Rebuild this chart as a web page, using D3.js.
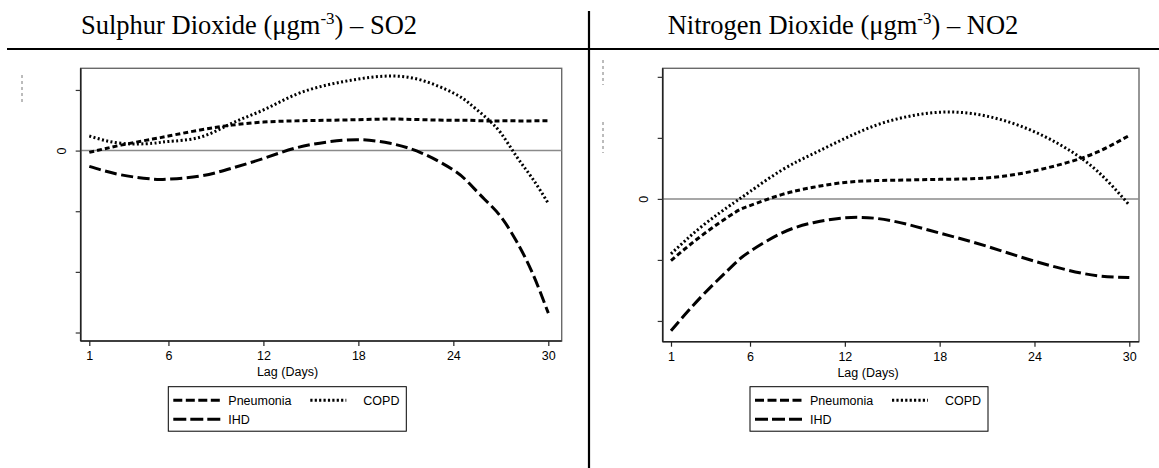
<!DOCTYPE html>
<html><head><meta charset="utf-8">
<script src="https://cdn.jsdelivr.net/npm/d3@7/dist/d3.min.js"></script>
<style>body{margin:0;background:#fff}svg{display:block}</style>
</head><body>
<svg id="chart" width="1159" height="468"></svg>
<script>
// ---------- data ----------
const seriesNames = ["Pneumonia", "COPD", "IHD"];
const xTicks = [1, 6, 12, 18, 24, 30];

const so2Lags = [1,3,5,6,8,10,12,14,16,18,20,22,24,25,26,27,28,29,30];
const so2Pneumonia = [-0.03,0.09,0.19,0.24,0.34,0.42,0.47,0.49,0.50,0.51,0.52,0.51,0.50,0.50,0.49,0.49,0.49,0.49,0.49];
const so2COPD      = [0.24,0.12,0.12,0.15,0.22,0.45,0.67,0.92,1.08,1.18,1.23,1.16,0.95,0.78,0.56,0.29,-0.10,-0.46,-0.87];
const so2IHD       = [-0.26,-0.40,-0.47,-0.47,-0.42,-0.29,-0.13,0.04,0.14,0.18,0.12,-0.04,-0.32,-0.54,-0.81,-1.09,-1.50,-2.02,-2.68];
const so2YTicks = [1, 0, -1, -2, -3];

const no2Lags = [1,3,5,6,8,10,12,14,16,18,20,22,24,26,28,30];
const no2Pneumonia = [-1.01,-0.59,-0.23,-0.11,0.07,0.19,0.27,0.30,0.31,0.32,0.33,0.37,0.46,0.59,0.77,1.04];
const no2COPD      = [-0.90,-0.44,-0.06,0.12,0.47,0.74,0.99,1.21,1.35,1.42,1.40,1.29,1.10,0.83,0.45,-0.10];
const no2IHD       = [-2.16,-1.58,-1.07,-0.86,-0.56,-0.39,-0.31,-0.32,-0.42,-0.56,-0.70,-0.86,-1.02,-1.16,-1.26,-1.29];
const no2YTicks = [2, 1, 0, -1, -2];

// ---------- styles ----------
const dashes = {"Pneumonia": "5,3", "COPD": "2,2.4", "IHD": "12,4.5"};
const legendDashes = {"Pneumonia": "9,3.5", "COPD": "2.2,2.2", "IHD": "13,4"};

const svg = d3.select("#chart");

// page rules
svg.append("line").attr("x1", 7).attr("x2", 1159).attr("y1", 49).attr("y2", 49)
  .attr("stroke", "#000").attr("stroke-width", 2.2);
svg.append("line").attr("x1", 589).attr("x2", 589).attr("y1", 11).attr("y2", 468)
  .attr("stroke", "#000").attr("stroke-width", 2.2);

function title(x, main, tail) {
  const t = svg.append("text").attr("x", x).attr("y", 34).attr("text-anchor", "middle")
    .attr("font-family", "Liberation Serif, Times New Roman, serif").attr("font-size", 26.5).attr("fill", "#000");
  t.append("tspan").text(main + " (μgm");
  t.append("tspan").attr("dy", -10).attr("font-size", 17).text("-3");
  t.append("tspan").attr("dy", 10).text(") – " + tail);
}
title(249, "Sulphur Dioxide", "SO2");
title(843, "Nitrogen Dioxide", "NO2");

// small dashed artefacts at the left of each panel
[[22, 75, 105], [603, 60, 85], [603, 122, 153]].forEach(([x, y1, y2]) => {
  svg.append("line").attr("x1", x).attr("x2", x).attr("y1", y1).attr("y2", y2)
    .attr("stroke", "#555").attr("stroke-width", 0.8).attr("stroke-dasharray", "3,3");
});

function panel(cfg) {
  const g = svg.append("g");
  const x = d3.scaleLinear().domain([1, 30]).range([cfg.x1, cfg.x30]);
  const y = d3.scaleLinear().domain(cfg.yDomain).range([cfg.bottom, cfg.top]);

  // frame
  g.append("rect").attr("x", cfg.left).attr("y", cfg.top)
    .attr("width", cfg.right - cfg.left).attr("height", cfg.bottom - cfg.top)
    .attr("fill", "none").attr("stroke", "#6a6a6a").attr("stroke-width", 1.4);

  // zero line
  g.append("line").attr("x1", cfg.left).attr("x2", cfg.right)
    .attr("y1", y(0)).attr("y2", y(0)).attr("stroke", "#8a8a8a").attr("stroke-width", 1.5);

  // axes
  const xa = g.append("g").attr("transform", `translate(0,${cfg.bottom})`)
    .call(d3.axisBottom(x).tickValues(xTicks).tickSize(5).tickSizeOuter(0).tickPadding(5));
  xa.select(".domain").attr("d", `M${cfg.left},0H${cfg.right}`).attr("stroke", "#222").attr("stroke-width", 1.6);
  xa.selectAll(".tick line").attr("stroke", "#222").attr("stroke-width", 1.2);
  xa.selectAll(".tick text").attr("font-family", "Liberation Sans, Arial, sans-serif")
    .attr("font-size", 12.5).attr("fill", "#000");

  const ya = g.append("g").attr("transform", `translate(${cfg.left},0)`)
    .call(d3.axisLeft(y).tickValues(cfg.yTicks).tickSize(5).tickSizeOuter(0)
      .tickFormat(d => d === 0 ? "0" : ""));
  ya.select(".domain").attr("d", `M0,${cfg.top}V${cfg.bottom}`).attr("stroke", "#222").attr("stroke-width", 1.6);
  ya.selectAll(".tick line").attr("stroke", "#333").attr("stroke-width", 1.2);
  ya.selectAll(".tick text").attr("font-family", "Liberation Sans, Arial, sans-serif")
    .attr("font-size", 12.5).attr("fill", "#000")
    .attr("x", null).attr("y", null).attr("dy", "0.35em")
    .attr("transform", "translate(-19,0) rotate(-90)").attr("text-anchor", "middle");

  // x label
  g.append("text").attr("x", cfg.labelX).attr("y", cfg.bottom + 35).attr("text-anchor", "middle")
    .attr("font-family", "Liberation Sans, Arial, sans-serif").attr("font-size", 12.5).text("Lag (Days)");

  // curves
  const line = d3.line().x(d => x(d[0])).y(d => y(d[1])).curve(d3.curveNatural);
  seriesNames.forEach(name => {
    const vals = cfg.series[name];
    const pts = cfg.lags.map((l, i) => [l, vals[i]]);
    g.append("path").datum(pts).attr("d", line).attr("fill", "none")
      .attr("stroke", "#000").attr("stroke-width", 3).attr("stroke-dasharray", dashes[name]);
  });

  // legend
  const lg = g.append("g").attr("transform", `translate(${cfg.legendX},386.7)`);
  lg.append("rect").attr("width", 238).attr("height", 44.5).attr("fill", "#fff")
    .attr("stroke", "#000").attr("stroke-width", 1);
  const items = [
    {name: "Pneumonia", sx: 5, sw: 47, tx: 60, y: 13.5},
    {name: "COPD", sx: 142, sw: 36, tx: 195, y: 13.5},
    {name: "IHD", sx: 5, sw: 47, tx: 60, y: 32.5}
  ];
  items.forEach(it => {
    lg.append("line").attr("x1", it.sx).attr("x2", it.sx + it.sw).attr("y1", it.y).attr("y2", it.y)
      .attr("stroke", "#000").attr("stroke-width", 3).attr("stroke-dasharray", legendDashes[it.name]);
    lg.append("text").attr("x", it.tx).attr("y", it.y).attr("dy", "0.35em")
      .attr("font-family", "Liberation Sans, Arial, sans-serif").attr("font-size", 12.5).text(it.name);
  });
}

panel({
  left: 80.7, right: 561.7, top: 68.3, bottom: 341,
  x1: 89.3, x30: 548.3, yDomain: [-3.14, 1.357], yTicks: so2YTicks,
  lags: so2Lags, series: {"Pneumonia": so2Pneumonia, "COPD": so2COPD, "IHD": so2IHD},
  labelX: 287.5, legendX: 168.3
});
panel({
  left: 662.7, right: 1139, top: 68.3, bottom: 341.7,
  x1: 671, x30: 1129.3, yDomain: [-2.34, 2.14], yTicks: no2YTicks,
  lags: no2Lags, series: {"Pneumonia": no2Pneumonia, "COPD": no2COPD, "IHD": no2IHD},
  labelX: 868, legendX: 750
});
</script>
</body></html>
